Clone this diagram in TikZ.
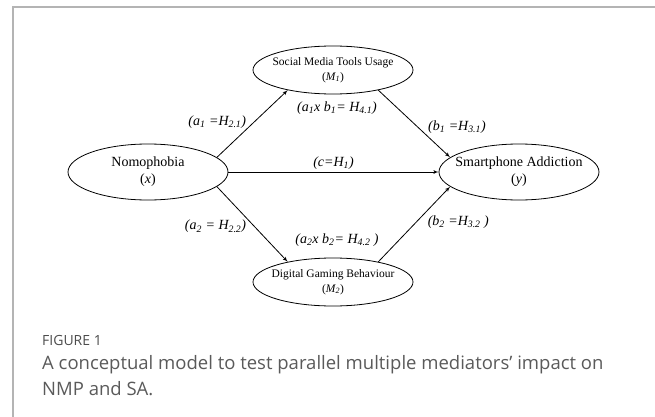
\documentclass[tikz,border=0pt]{standalone}
\usepackage{fontspec}
\setmainfont{Liberation Serif}
\newfontfamily\capfont{Open Sans}
\usetikzlibrary{shapes,arrows}
\definecolor{capgray}{HTML}{5A5A5A}
\definecolor{framegray}{HTML}{B4B4B4}
\tikzstyle{construct} = [ellipse, draw, inner sep=0pt, line width=0.8pt,
    minimum width=160pt, minimum height=56pt, font=\fontsize{14}{17}\selectfont]
\tikzstyle{mediator} = [ellipse, draw, inner sep=0pt, line width=0.8pt,
    minimum width=160pt, minimum height=48pt, font=\fontsize{11.5}{14.5}\selectfont]
\tikzstyle{line} = [draw, -latex', line width=0.8pt]
\tikzstyle{hyp} = [font=\fontsize{14}{16}\selectfont\itshape, inner sep=2pt]
\newcommand{\twolines}[2]{\makebox[0pt]{\begin{tabular}{@{}c@{}}#1\\#2\end{tabular}}}

\begin{document}
\begin{tikzpicture}[node distance = 185pt, auto, x=1pt, y=1pt]
    \useasboundingbox (0,0) rectangle (655,-417);
    % figure frame
    \draw[framegray, line width=2pt] (13,-417) -- (13,-7) -- (655,-7);

    \node[construct] at (148,-172) (nomo) {\twolines{Nomophobia}{(\textit{x})}};
    \node[construct, right of=nomo, node distance=371pt] (sa) {\twolines{Smartphone Addiction}{(\textit{y})}};
    \node[mediator, right of=nomo, yshift=102pt] (m1) {\twolines{Social Media Tools Usage}{(\textit{M\textsubscript{1}})}};
    \node[mediator, right of=nomo, yshift=-110pt] (m2) {\twolines{Digital Gaming Behaviour}{(\textit{M\textsubscript{2}})}};

    \path[line] (nomo.12) -- node[hyp, pos=0.53, anchor=east, xshift=-6pt] (ha1) {(a\textsubscript{1} =H\textsubscript{2.1})} (m1.204);
    \path[line] (m1.336) -- node[hyp, pos=0.55, anchor=west, xshift=8pt] (hb1) {(b\textsubscript{1} =H\textsubscript{3.1})} (sa.168);
    \path[line] (nomo) -- node[hyp, above] (hc) {(c=H\textsubscript{1})} (sa);
    \path[line] (nomo.-12) -- node[hyp, pos=0.53, anchor=east, xshift=-6pt] (ha2) {(a\textsubscript{2} = H\textsubscript{2.2})} (m2.156);
    \path[line] (m2.24) -- node[hyp, pos=0.53, anchor=west, xshift=9pt] (hb2) {(b\textsubscript{2} =H\textsubscript{3.2} )} (sa.192);

    \node[hyp, below of=m1, node distance=38pt, xshift=4pt] (ind1) {(a\textsubscript{1}x b\textsubscript{1}= H\textsubscript{4.1})};
    \node[hyp, above of=m2, node distance=42pt, xshift=4pt] (ind2) {(a\textsubscript{2}x b\textsubscript{2}= H\textsubscript{4.2} )};

    % caption
    \node[anchor=west, inner sep=0pt, text=capgray!85!black, font=\capfont\fontsize{14}{16}\selectfont] at (42,-340) (figno) {FIGURE 1};
    \node[anchor=north west, inner sep=0pt, align=left, text=capgray, font=\capfont\fontsize{18.5}{26}\selectfont] at (42,-355) (cap) {A conceptual model to test parallel multiple mediators’ impact on\\NMP and SA.};
\end{tikzpicture}
\end{document}
